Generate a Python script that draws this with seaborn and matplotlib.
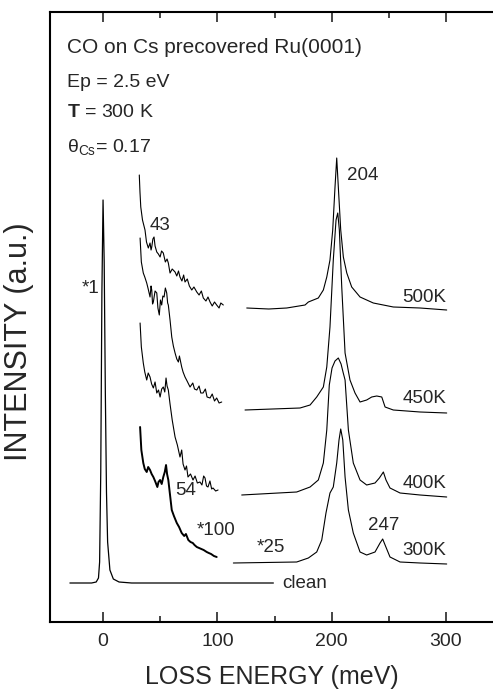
import numpy as np
import pandas as pd
import matplotlib
matplotlib.use("Agg")
import matplotlib.pyplot as plt
import seaborn as sns

sns.set_style("white")
plt.rcParams['font.family'] = ['Liberation Sans', 'DejaVu Sans']
plt.rcParams['mathtext.fontset'] = 'custom'
plt.rcParams['mathtext.rm'] = 'Liberation Sans'
plt.rcParams['mathtext.bf'] = 'Liberation Sans:bold'
plt.rcParams['mathtext.it'] = 'Liberation Sans:italic'

# ---- spectra (energy in meV, intensity in a.u. incl. offset) ----
clean_e = [-29, -10, -6, -4, -3, -2, -1, 0, 1, 2, 3, 4, 6, 9, 14, 25, 149]
clean_i = [39, 39, 40, 44, 60, 150, 330, 422, 360, 230, 130, 80, 52, 43, 40, 39, 39]

# low energy region (*100)
low500_e = [31.7, 32.3, 33.0, 34.5, 36.7, 38.0, 39.6, 41.1, 42.0, 42.6, 43.6, 44.6, 45.5,
            47.0, 48.4, 49.9, 51.2, 52.7, 54.5, 56.0, 57.1, 58.6, 60.5, 63.0, 64.5, 66.0,
            67.3, 69.0, 70.5, 71.7, 73.7, 75.5, 77.6, 79.5, 82.0, 84.0, 86.0, 87.7, 90.0,
            91.8, 93.6, 95.5, 97.5, 99.4, 101.5, 103.0, 105.2]
low500_i = [447, 430, 415, 402, 392, 380, 374, 379, 372, 375, 383, 385, 376,
            370, 368, 365, 371, 369, 360, 363, 359, 349, 353, 350, 346, 351,
            345, 341, 347, 340, 343, 336, 332, 335, 330, 327, 331, 324, 321,
            325, 320, 316, 320, 317, 314, 319, 317]

low450_e = [32.4, 33.5, 35.2, 36.5, 38.2, 39.5, 41.1, 42.0, 42.6, 43.3, 44.0, 45.5, 47.0,
            48.0, 49.2, 50.2, 51.3, 52.3, 53.4, 54.5, 55.7, 56.5, 57.1, 58.6, 60.1, 61.5,
            63.0, 64.5, 65.9, 66.8, 68.8, 70.0, 71.7, 73.5, 76.1, 78.5, 80.0, 82.0, 84.0,
            85.5, 87.5, 89.5, 91.0, 93.6, 95.5, 97.5, 99.4, 101.5, 103.8]
low450_i = [384, 360, 349, 345, 339, 333, 325, 336, 332, 318, 320, 331, 329,
            314, 307, 322, 317, 326, 325, 334, 329, 319, 317, 302, 285, 276,
            269, 263, 260, 266, 255, 250, 245, 241, 235, 239, 233, 232, 236,
            229, 229, 233, 225, 224, 228, 221, 224, 219, 220]

low400_e = [32.4, 33.5, 35.2, 36.5, 38.2, 39.5, 41.1, 42.5, 44.0, 45.5, 47.0, 48.5, 49.9,
            51.3, 52.7, 54.0, 55.1, 56.0, 57.1, 58.6, 60.5, 63.0, 65.0, 67.3, 68.8, 70.0,
            71.7, 73.0, 74.3, 76.5, 78.7, 80.5, 82.5, 84.8, 86.5, 88.0, 89.2, 90.5, 91.8,
            93.5, 95.0, 96.2, 98.5, 100.6]
low400_i = [299, 275, 259, 250, 242, 249, 245, 238, 234, 240, 229, 232, 225,
            233, 235, 230, 244, 236, 232, 218, 202, 185, 177, 165, 172, 158,
            152, 156, 145, 148, 142, 146, 139, 140, 137, 146, 144, 136, 135,
            141, 133, 134, 131, 132]

low300_e = [32.4, 33.5, 35.2, 36.5, 38.2, 39.5, 41.1, 42.5, 44.0, 45.5, 47.5, 48.5, 49.9,
            51.3, 52.7, 54.0, 55.1, 56.0, 57.1, 58.5, 60.1, 62.0, 64.5, 66.5, 68.8, 71.0,
            72.5, 74.6, 76.5, 78.5, 80.0, 82.0, 84.0, 86.0, 88.0, 90.7, 92.5, 94.5, 97.0, 99.4]
low300_i = [195, 172, 159, 153, 150, 155, 152, 148, 145, 141, 135, 140, 142,
            138, 145, 150, 157, 148, 142, 128, 112, 106, 99, 95, 89, 86,
            88, 82, 80, 79, 77, 75, 74, 73, 72, 70, 69, 68, 66, 65]

# CO stretch region (*25)
hi500_e = [125.7, 145.0, 160.7, 176.7, 179.6, 188.3, 192.7, 195.7, 198.5, 200.9, 202.9, 204.4,
           205.8, 207.9, 210.2, 213.2, 217.5, 224.8, 236.4, 253.9, 277.3, 300.6]
hi500_i = [314, 313, 314, 317, 320, 324, 332, 345, 362, 392, 435, 464,
           435, 392, 365, 349, 335, 325, 319, 315, 314, 312]

hi450_e = [124.2, 172.3, 181.1, 186.9, 192.7, 195.7, 198.5, 201.4, 203.8, 205.3, 206.7, 208.8,
           211.7, 216.0, 220.4, 224.8, 230.6, 235.0, 239.4, 243.8, 246.7, 253.9, 277.3, 300.6]
hi450_i = [212, 214, 217, 225, 235, 255, 295, 362, 402, 409, 392, 335,
           269, 242, 229, 220, 222, 225, 226, 225, 215, 212, 210, 209]

hi400_e = [121.3, 169.4, 181.1, 188.3, 192.7, 195.7, 197.9, 200.3, 202.9, 205.8, 208.2, 209.9,
           211.7, 214.6, 218.9, 224.8, 230.6, 237.9, 241.7, 245.2, 247.5, 251.0, 259.8, 277.3, 300.6]
hi400_i = [127, 130, 135, 142, 159, 192, 237, 254, 261, 264, 258, 250,
           242, 192, 159, 142, 137, 139, 144, 150, 142, 134, 129, 127, 125]

hi300_e = [114.0, 169.4, 179.6, 186.9, 191.3, 195.0, 198.5, 201.4, 204.4, 206.4, 207.9, 209.7,
           211.7, 214.6, 218.9, 224.8, 230.6, 237.9, 242.3, 244.6, 246.7, 251.0, 259.8, 277.3, 300.6]
hi300_i = [59, 60, 64, 70, 82, 109, 129, 135, 159, 182, 193, 182,
           145, 112, 89, 70, 67, 70, 79, 83, 77, 65, 60, 59, 58]

temp_labels = ['500K', '450K', '400K', '300K']

fig = plt.figure(figsize=(4.93, 6.91), dpi=100)
ax = fig.add_axes([50 / 493, 69 / 691, 443 / 493, 610 / 691])

curves = [(clean_e, clean_i, 0.9),
          (low500_e, low500_i, 0.8), (low450_e, low450_i, 0.8),
          (low400_e, low400_i, 0.8), (low300_e, low300_i, 1.4),
          (hi500_e, hi500_i, 0.8), (hi450_e, hi450_i, 0.8),
          (hi400_e, hi400_i, 0.8), (hi300_e, hi300_i, 0.8)]
for e, i, lw in curves:
    sns.lineplot(x=e, y=i, ax=ax, color='black', lw=lw, estimator=None, sort=False)

ax.set_xlim(-46.4, 341.1)
ax.set_ylim(0, 610)
ax.set_yticks([])
ax.set_xticks([0, 100, 200, 300])
ax.set_xticks([50, 150, 250], minor=True)
ax.tick_params(axis='x', which='both', direction='in', top=True, bottom=True,
               width=1.2, labelsize=14, pad=8)
ax.tick_params(axis='x', which='major', length=7)
ax.tick_params(axis='x', which='minor', length=4)
ax.spines['right'].set_visible(False)
for s in ['left', 'top', 'bottom']:
    ax.spines[s].set_linewidth(1.5)
    ax.spines[s].set_color('black')

ax.set_xlabel('LOSS ENERGY (meV)', fontsize=18, labelpad=11)
ax.set_ylabel('INTENSITY (a.u.)', fontsize=22)
ax.yaxis.set_label_coords(-0.035, 0.46)

# header text
ax.text(-31.5, 569, 'CO on Cs precovered Ru(0001)', fontsize=15, va='baseline')
ax.text(-31.5, 535, 'Ep = 2.5 eV', fontsize=14, va='baseline')
ax.text(-31.5, 505, r'$\mathbf{T}$ = 300 K', fontsize=14, va='baseline')
ax.text(-31.5, 470, r'$\mathrm{\theta}_{\mathrm{Cs}}$= 0.17', fontsize=14, va='baseline')

# annotations
fs = 13.5
ax.text(-18.4, 329, '*1', fontsize=fs, va='baseline')
ax.text(41.1, 392, '43', fontsize=fs, va='baseline')
ax.text(63.0, 127, '54', fontsize=fs, va='baseline')
ax.text(82.2, 87, '*100', fontsize=fs, va='baseline')
ax.text(134.7, 70, '*25', fontsize=fs, va='baseline')
ax.text(213.4, 442, '204', fontsize=fs, va='baseline')
ax.text(231.8, 92, '247', fontsize=fs, va='baseline')
for lab, yb in zip(temp_labels, [320, 219, 134, 67]):
    ax.text(300.6, yb, lab, fontsize=fs, va='baseline', ha='right')
ax.text(156.6, 39, 'clean', fontsize=fs, va='center')

fig.savefig('out.png', dpi=100)
